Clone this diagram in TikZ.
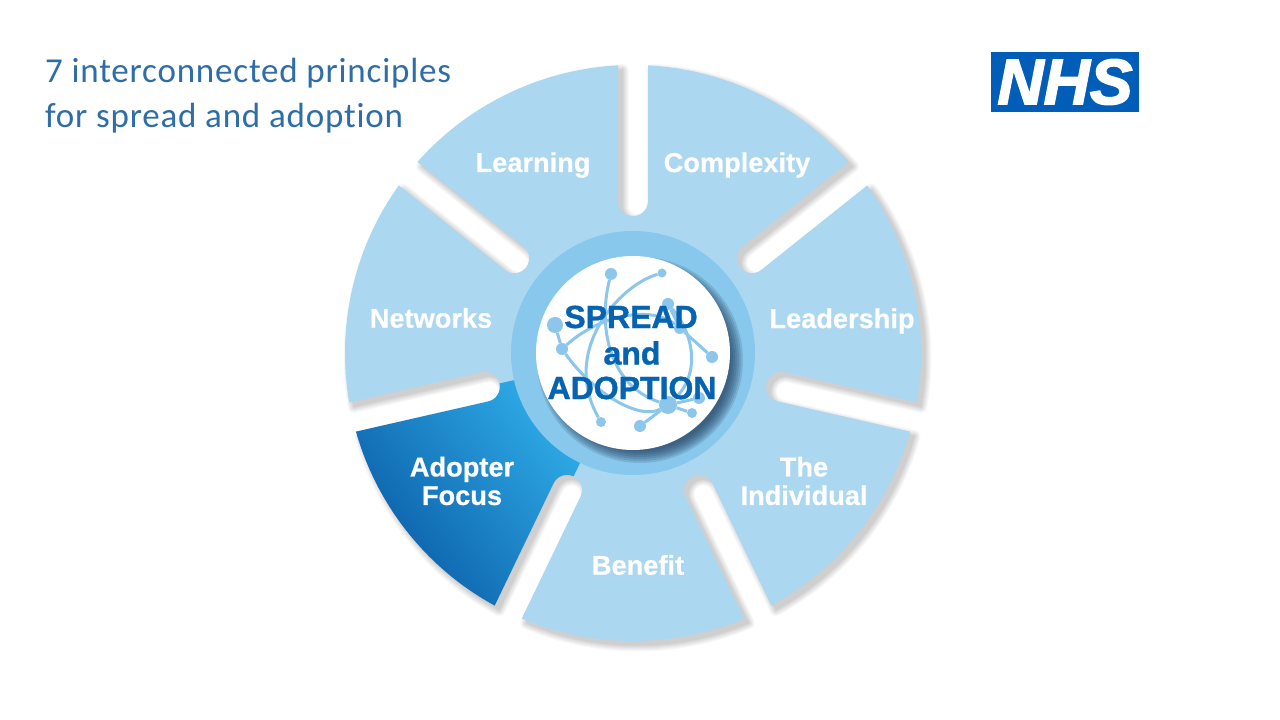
\documentclass[tikz,border=0pt]{standalone}
\usepackage{fontspec}
\setmainfont{Liberation Sans}
\newfontfamily\titlefont[LetterSpace=2.3,Ligatures=CommonOff]{Carlito}
\newfontfamily\hubfont[FakeBold=1.2]{Liberation Sans Bold}
\newfontfamily\petalfont[FakeBold=0.6]{Liberation Sans Bold}
\newfontfamily\nhsfont[FakeBold=2.5]{Liberation Sans Bold Italic}
\usetikzlibrary{calc}
\definecolor{petal}{HTML}{ABD7F0}
\definecolor{ringblue}{HTML}{88C8EC}
\definecolor{netblue}{HTML}{8CC6EA}
\definecolor{txtblue}{HTML}{0563B2}
\definecolor{nhsblue}{HTML}{005EB8}
\definecolor{titleblue}{HTML}{2E6DA8}
\definecolor{gdark}{HTML}{0B5EA8}
\definecolor{glight}{HTML}{36BCF5}
\definecolor{hubshadow}{HTML}{1F3A58}
\tikzset{
  x=1pt,y=1pt,
  petallabel/.style={text=white,font=\petalfont\fontsize{27.2}{28.5}\selectfont,align=center},
  hublabel/.style={text=txtblue,font=\hubfont\fontsize{32}{36}\selectfont,align=center,inner sep=0pt},
  netnode/.style={circle,fill=netblue,inner sep=0pt,minimum size=#1},
  netlink/.style={draw=netblue,line width=3pt},
  titletext/.style={text=titleblue,font=\titlefont\fontsize{35}{45}\selectfont,align=left,anchor=north west,inner sep=0pt},
}
% sector path: #1 = upper slot angle, #2 = lower slot angle
\newcommand{\sectorpath}[2]{%
  (0,0) -- (#1:137) arc[start angle=#1-180,end angle=#1-90,radius=15]
  -- (#1-2.985:288) arc[start angle=#1-2.985,end angle=#2+2.985,radius=288]
  -- (#2+5.636:152.74) arc[start angle=#2+90,end angle=#2+180,radius=15] -- cycle}
\begin{document}
\begin{tikzpicture}
\useasboundingbox (0,0) rectangle (1280,720);
\fill[white] (0,0) rectangle (1280,720);
\begin{scope}[shift={(633,367)}]
  % shadows: each layer is the union of all seven sectors
  \begin{scope}[shift={(4.5,-4.5)}]
    \foreach \w in {12,10,8,6,4,2,0.2}{
      \begin{scope}[transparency group,opacity=.028]
        \foreach \k in {0,...,6}{
          \pgfmathsetmacro\a{90-\k*51.4286}
          \pgfmathsetmacro\b{\a-51.4286}
          \path[fill=black,draw=black,line width=\w pt,line join=round] \sectorpath{\a}{\b};
        }
      \end{scope}
    }
  \end{scope}
  % petals
  \foreach \k in {0,1,2,3,5,6}{
    \pgfmathsetmacro\a{90-\k*51.4286}
    \pgfmathsetmacro\b{\a-51.4286}
    \fill[petal] \sectorpath{\a}{\b};
  }
  \pgfmathsetmacro\a{90-4*51.4286}
  \pgfmathsetmacro\b{\a-51.4286}
  \shade[left color=gdark,right color=glight,shading angle=128] \sectorpath{\a}{\b};
  \fill[ringblue] (0,0) circle[radius=122];
  % hub shadow
  \begin{scope}
    \clip (0,0) circle[radius=122];
    \foreach \w in {6,4,2,0,-2,-4,-6}{
      \fill[hubshadow,opacity=.16] (7,-7) circle[radius=97+\w];
    }
  \end{scope}
  \fill[white] (0,0) circle[radius=97];
\end{scope}
% network
\node[netnode=12pt] (na) at (611,446) {};
\node[netnode=9pt] (nb) at (662,447) {};
\node[netnode=12pt] (nc) at (668,416) {};
\node[netnode=12pt] (nd) at (680,392) {};
\node[netnode=12pt] (ne) at (712,363) {};
\node[netnode=16pt] (nf) at (555,395) {};
\node[netnode=12pt] (ng) at (562,371) {};
\node[netnode=10pt] (nh) at (601,298) {};
\node[netnode=12pt] (ni) at (640,294) {};
\node[netnode=18pt] (nj) at (668,315) {};
\node[netnode=10pt] (nk) at (692,307) {};
\node[netnode=12pt] (nl) at (699,322) {};
\draw[netlink] (nf) -- (ng);
\draw[netlink] (nd) -- (ne);
\draw[netlink] (nc) -- (nd);
\draw[netlink] (nj) -- (nk);
\draw[netlink] (nj) -- (ni);
\draw[netlink] (nj) -- (nl);
\draw[netlink] (na) .. controls (598,395) and (608,335) .. (nj);
\draw[netlink] (nb) .. controls (620,435) and (560,370) .. (nh);
\draw[netlink] (ng) .. controls (595,325) and (640,300) .. (nj);
\draw[netlink] (ng) .. controls (600,405) and (650,415) .. (nd);
\draw[netlink] (nc) .. controls (695,385) and (700,345) .. (nj);
% hub text
\node[hublabel] (hub1) at (631,403) {SPREAD};
\node[hublabel] (hub2) at (632,367) {and};
\node[hublabel] (hub3) at (632,332) {ADOPTION};
% petal labels
\node[petallabel] (l1) at (533,555) {Learning};
\node[petallabel] (l2) at (737,555) {Complexity};
\node[petallabel] (l3) at (842,399) {Leadership};
\node[petallabel] (l4) at (804,239) {The\\Individual};
\node[petallabel] (l5) at (638,155) {Benefit};
\node[petallabel] (l6) at (462,239) {Adopter\\Focus};
\node[petallabel] (l7) at (431,402) {Networks};
% title
\node[titletext] (title) at (45,662) {7 interconnected principles\\for spread and adoption};
% NHS logo
\node[fill=nhsblue,minimum width=148pt,minimum height=60pt,inner sep=0pt,text=white,font=\nhsfont\fontsize{64}{64}\selectfont] (nhs) at (1065,638) {NHS};
\end{tikzpicture}
\end{document}
